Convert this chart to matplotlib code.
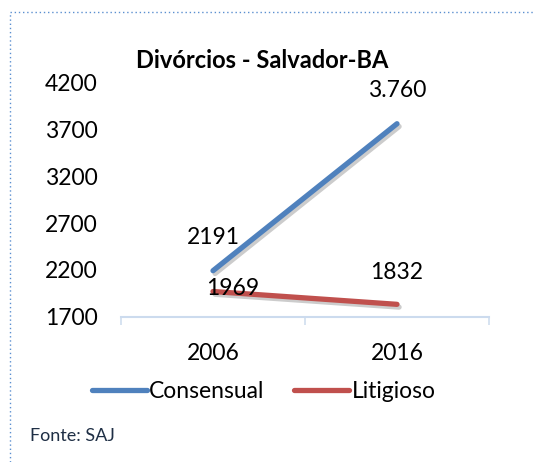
import matplotlib
matplotlib.use("Agg")
import matplotlib.pyplot as plt
import matplotlib.patheffects as pe
from matplotlib.lines import Line2D

plt.rcParams['font.family'] = ['Lato', 'DejaVu Sans']

years = ["2006", "2016"]
consensual = [2191, 3760]
litigioso = [1969, 1832]
consensual_labels = ["2191", "3.760"]
litigioso_labels = ["1969", "1832"]
yticks = [1700, 2200, 2700, 3200, 3700, 4200]
title = "Divórcios - Salvador-BA"
source = "Fonte: SAJ"

blue = "#4F81BD"
red = "#C0504D"
axis_col = "#CCDBEE"
fs = 16.5

fig = plt.figure(figsize=(5.34, 4.62), dpi=100)
ax = fig.add_axes([121/534, 1-316.7/462, (489-121)/534, (316.7-82.5)/462])

x = list(range(len(years)))
shadow = [pe.SimpleLineShadow(offset=(1.5, -2), shadow_color='gray', alpha=0.4), pe.Normal()]
ax.plot(x, consensual, color=blue, lw=3.8, solid_capstyle='round', path_effects=shadow, label="Consensual")
ax.plot(x, litigioso, color=red, lw=3.8, solid_capstyle='round', path_effects=shadow, label="Litigioso")

ax.set_xlim(-0.5, len(years)-0.5)
ax.set_ylim(yticks[0], yticks[-1])
ax.set_yticks(yticks)
ax.set_yticklabels([str(v) for v in yticks])
ax.tick_params(axis='y', length=0, pad=17, labelsize=fs)

ax.set_xticks([i - 0.5 for i in range(len(years)+1)])
ax.set_xticklabels([])
ax.set_xticks(x, minor=True)
ax.set_xticklabels(years, minor=True)
ax.tick_params(axis='x', which='major', length=6, width=1.1, color=axis_col, direction='out')
ax.tick_params(axis='x', which='minor', length=0, pad=19, labelsize=fs)

for s in ['left', 'top', 'right']:
    ax.spines[s].set_visible(False)
ax.spines['bottom'].set_color(axis_col)
ax.spines['bottom'].set_linewidth(1.5)
ax.patch.set_visible(False)

for i, (v, t) in enumerate(zip(consensual, consensual_labels)):
    ax.annotate(t, (i, v), xytext=(0, 24), textcoords='offset points',
                ha='center', va='center', fontsize=fs)
ax.annotate(litigioso_labels[0], (0, litigioso[0]), xytext=(14, 2), textcoords='offset points',
            ha='center', va='center', fontsize=fs)
ax.annotate(litigioso_labels[1], (1, litigioso[1]), xytext=(0, 23), textcoords='offset points',
            ha='center', va='center', fontsize=fs)

fig.text(262/534, 1-61/462, title, ha='center', va='center', fontsize=17, fontweight='bold')

fig.legend(handles=[Line2D([], [], color=blue, lw=3.8, solid_capstyle='round'),
                    Line2D([], [], color=red, lw=3.8, solid_capstyle='round')],
           labels=["Consensual", "Litigioso"], loc='center', bbox_to_anchor=(263.5/534, 1-392/462),
           ncol=2, frameon=False, fontsize=fs, handlelength=2.4, handletextpad=0.1,
           columnspacing=1.3, borderpad=0)

fig.text(30/534, 1-436/462, source, ha='left', va='center', fontsize=13, color="#1F2F45")

border_col = "#5B8FD0"
fig.add_artist(Line2D([9.5/534, 9.5/534], [0, 1-12/462], transform=fig.transFigure,
                      color=border_col, lw=1, linestyle=(0, (1, 2))))
fig.add_artist(Line2D([9.5/534, 1], [1-12/462, 1-12/462], transform=fig.transFigure,
                      color=border_col, lw=1, linestyle=(0, (1, 2))))

fig.savefig("out.png", dpi=100)
